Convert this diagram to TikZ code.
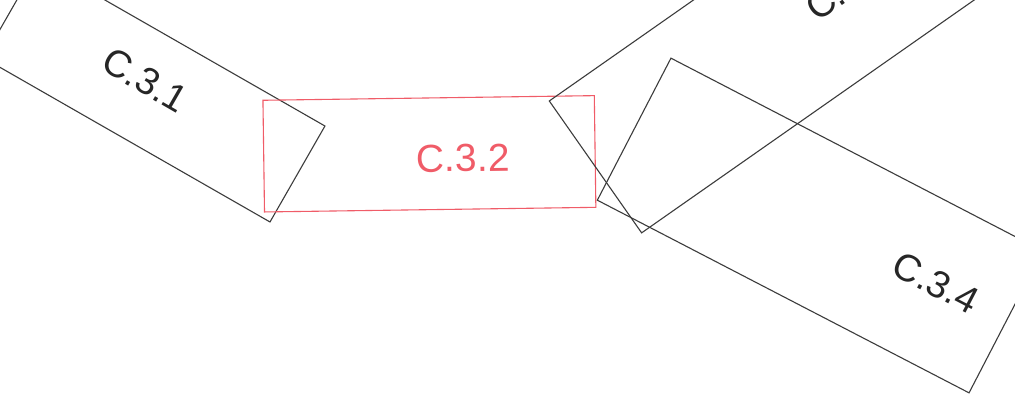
\documentclass[tikz,border=0pt]{standalone}
\usepackage{fontspec}
\setmainfont{Liberation Sans}
\definecolor{boxline}{RGB}{60,60,60}
\definecolor{boxred}{RGB}{240,92,104}
\begin{document}
\begin{tikzpicture}[x=1pt,y=-1pt,
  blackbox/.style={draw=boxline, line width=1.1pt, inner sep=0pt},
  redbox/.style={draw=boxred, line width=1.1pt, inner sep=0pt},
  lbl/.style={font=\fontsize{38}{38}\selectfont, text=black!85, inner sep=0pt},
  redlbl/.style={font=\fontsize{39}{39}\selectfont, text=boxred, inner sep=0pt}]
\useasboundingbox (0,0) rectangle (1015,404);
\clip (0,0) rectangle (1015,404);
\fill[white] (0,0) rectangle (1015,404);
\node[blackbox, minimum width=330pt, minimum height=110.6pt, rotate=-29.8] (b1) at (154.3,92) {};
\node[redbox, minimum width=331.4pt, minimum height=111.7pt, rotate=0.8] (b2) at (429.4,153.8) {};
\node[blackbox, minimum width=620pt, minimum height=161pt, rotate=35] (b3) at (849.4,-10.9) {};
\node[blackbox, minimum width=418.7pt, minimum height=160pt, rotate=-27.4] (b4) at (820,225.5) {};
\node[lbl, rotate=-30] (t1) at (145,80) {C.3.1};
\node[redlbl, rotate=0.8] (t2) at (463,158) {C.3.2};
\node[lbl, rotate=35, anchor=base west] (t3) at (817,23) {C.3.3};
\node[lbl, rotate=-27.5] (t4) at (936,283) {C.3.4};
\end{tikzpicture}
\end{document}
